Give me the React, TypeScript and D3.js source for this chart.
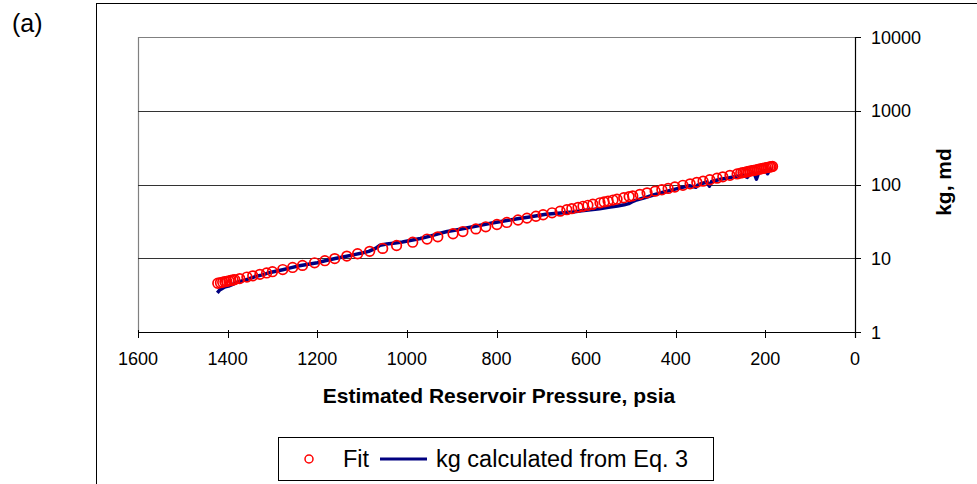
import React from "react";
import * as d3 from "d3";

// ---- Data ----
const fitPressure = [
  1422, 1416, 1411, 1406, 1402, 1397, 1393, 1388, 1384, 1373, 1357, 1344, 1328, 1313, 1300, 1277,
  1255, 1233, 1206, 1183, 1161, 1134, 1110, 1083, 1054, 1023, 987, 955, 931, 897, 875, 846, 824,
  799, 777, 752, 732, 712, 696, 676, 658, 643, 632, 618, 607, 596, 585, 569, 560, 551, 540, 531,
  516, 504, 496, 480, 464, 446, 431, 417, 402, 384, 368, 353, 339, 324, 308, 295, 279, 263, 255,
  250, 246, 242, 238, 234, 230, 226, 222, 218, 214, 210, 206, 202, 198, 194, 190, 187, 184,
];
const fitKg = [
  4.58, 4.67, 4.74, 4.81, 4.87, 4.94, 4.99, 5.07, 5.13, 5.3, 5.56, 5.77, 6.05, 6.32, 6.57, 7.03,
  7.5, 8.0, 8.67, 9.27, 9.89, 10.7, 11.5, 12.4, 13.6, 14.9, 16.5, 18.2, 19.5, 21.5, 23.0, 25.0, 26.7,
  28.7, 30.6, 33.0, 35.0, 37.1, 38.9, 41.3, 43.5, 45.5, 47.0, 49.0, 50.6, 52.2, 54.0, 56.5, 58.1,
  59.6, 61.5, 63.2, 66.1, 68.5, 70.1, 73.5, 77.1, 81.3, 84.9, 88.5, 92.5, 97.6, 102, 107, 111, 116,
  122, 127, 133, 139, 143, 145, 146, 148, 150, 152, 154, 155, 157, 159, 161, 163, 165, 167, 169,
  171, 173, 174, 176,
];

const eqPressure = [
  1423, 1418, 1412, 1405, 1398, 1390, 1380, 1370, 1355, 1340, 1325, 1310, 1295, 1277, 1260, 1240,
  1220, 1200, 1180, 1160, 1140, 1120, 1100, 1085, 1070, 1060, 1045, 1030, 1010, 990, 970, 950, 930,
  910, 890, 870, 850, 830, 810, 790, 770, 750, 730, 710, 690, 670, 650, 630, 610, 590, 570, 550,
  530, 515, 505, 498, 490, 470, 450, 430, 410, 390, 370, 355, 350, 340, 330, 325, 320, 300, 280,
  260, 250, 240, 235, 225, 220, 215, 205, 200, 195, 190, 186,
];
const eqKg = [
  3.4, 3.7, 3.9, 4.1, 4.2, 4.4, 4.7, 4.9, 5.2, 5.6, 5.9, 6.3, 6.6, 7.0, 7.4, 7.9, 8.3, 8.7, 9.3,
  9.9, 10.5, 11.1, 11.8, 12.4, 13.6, 15.0, 15.6, 16.0, 16.6, 17.5, 18.5, 19.8, 21.5, 23.0, 24.2,
  25.5, 27.0, 28.5, 30.0, 31.5, 33.0, 34.5, 36.0, 37.8, 39.5, 40.5, 41.5, 42.5, 44.0, 45.5, 47.0,
  49.0, 51.0, 53.0, 55.0, 58.0, 61.0, 66.0, 72.0, 78.0, 84.0, 90.0, 96.0, 92.0, 99, 104, 108, 95,
  110, 118, 124, 130, 134, 125, 138, 142, 118, 145, 150, 155, 140, 160, 165,
];

const xTicks = [1600, 1400, 1200, 1000, 800, 600, 400, 200, 0];
const yTicks = [1, 10, 100, 1000, 10000];

const panelLabel = "(a)";
const xTitle = "Estimated Reservoir Pressure, psia";
const yTitle = "kg, md";
const legendFit = "Fit";
const legendEq = "kg calculated from Eq. 3";

const FONT = "'Liberation Sans', Arial, Helvetica, sans-serif";

export default function App() {
  const W = 977;
  const H = 484;
  const left = 138;
  const right = 855;
  const top = 37;
  const bottom = 332;

  const x = d3.scaleLinear().domain([1600, 0]).range([left, right]);
  const y = d3.scaleLog().domain([1, 10000]).range([bottom, top]);

  const eqData = eqPressure.map((p, i) => [p, eqKg[i]] as [number, number]);
  const line = d3
    .line<[number, number]>()
    .x((d) => x(d[0]))
    .y((d) => y(d[1]));

  return (
    <svg
      width={W}
      height={H}
      style={{ position: "absolute", left: 0, top: 0, background: "#fff" }}
      fontFamily={FONT}
    >
      <rect x={0} y={0} width={W} height={H} fill="#fff" />
      {/* outer chart border */}
      <rect x={96.5} y={3.5} width={1000} height={600} fill="none" stroke="#000" strokeWidth={1} />
      <text x={12} y={31.5} fontSize={25} fill="#000">
        {panelLabel}
      </text>

      {/* plot area border (gray) */}
      <line x1={left + 0.5} x2={left + 0.5} y1={top} y2={bottom} stroke="#808080" strokeWidth={1.2} />
      {/* gridlines */}
      {yTicks.map((t) => (
        <line
          key={"g" + t}
          x1={left}
          x2={right}
          y1={Math.round(y(t)) + 0.5}
          y2={Math.round(y(t)) + 0.5}
          stroke={t === 10000 ? "#808080" : "#333"}
          strokeWidth={1}
        />
      ))}

      {/* data: Eq. 3 line */}
      <path d={line(eqData) || ""} fill="none" stroke="#000080" strokeWidth={3.5} strokeLinejoin="round" />
      {/* data: fit circles */}
      {fitPressure.map((p, i) => (
        <circle
          key={"c" + i}
          cx={x(p)}
          cy={y(fitKg[i])}
          r={4.8}
          fill="none"
          stroke="#ff0000"
          strokeWidth={1.7}
        />
      ))}

      {/* x axis */}
      <line x1={left} x2={right + 5} y1={bottom + 0.5} y2={bottom + 0.5} stroke="#000" strokeWidth={1.2} />
      {xTicks.map((t) => (
        <g key={"x" + t}>
          <line
            x1={Math.round(x(t)) + 0.5}
            x2={Math.round(x(t)) + 0.5}
            y1={bottom - 2}
            y2={bottom + 6}
            stroke="#000"
            strokeWidth={1}
          />
          <text x={x(t)} y={365} fontSize={18} textAnchor="middle" fill="#000">
            {t}
          </text>
        </g>
      ))}
      <text x={499} y={403} fontSize={21} fontWeight="bold" textAnchor="middle" fill="#000">
        {xTitle}
      </text>

      {/* right y axis */}
      <line x1={right + 0.5} x2={right + 0.5} y1={top} y2={bottom + 6} stroke="#000" strokeWidth={1.2} />
      {yTicks.map((t) => (
        <g key={"y" + t}>
          <line
            x1={right}
            x2={right + 6}
            y1={Math.round(y(t)) + 0.5}
            y2={Math.round(y(t)) + 0.5}
            stroke="#000"
            strokeWidth={1}
          />
          <text x={871} y={y(t) + 6.5} fontSize={18} fill="#000">
            {t}
          </text>
        </g>
      ))}
      <text
        transform="translate(951,182) rotate(-90)"
        fontSize={21}
        fontWeight="bold"
        textAnchor="middle"
        fill="#000"
      >
        {yTitle}
      </text>

      {/* legend */}
      <rect x={278.5} y={437.5} width={435} height={43} fill="#fff" stroke="#000" strokeWidth={1} />
      <circle cx={309} cy={459} r={4} fill="none" stroke="#ff0000" strokeWidth={1.5} />
      <text x={343} y={467} fontSize={23.5} fill="#000">
        {legendFit}
      </text>
      <line x1={380} x2={427} y1={459} y2={459} stroke="#000080" strokeWidth={3} />
      <text x={436} y={467} fontSize={23.5} fill="#000">
        {legendEq}
      </text>
    </svg>
  );
}
